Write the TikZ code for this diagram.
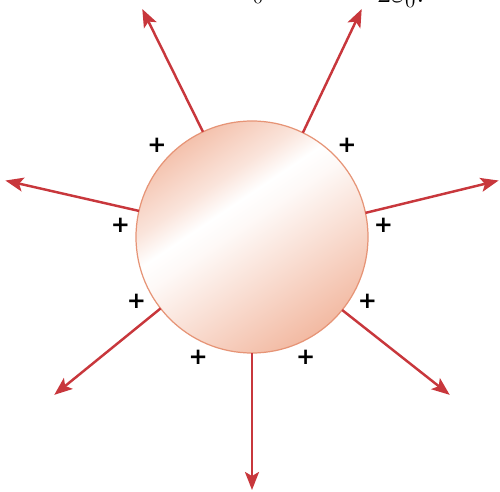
\documentclass[tikz,border=0pt]{standalone}
\usepackage{amsmath, amssymb}
\usepackage{fontspec}
\usepackage{tikz}
\usetikzlibrary{positioning, arrows.meta, calc}
\newfontfamily\chgfont{DejaVu Sans}
\definecolor{fieldred}{RGB}{200, 55, 60}
\definecolor{sphereD}{RGB}{230, 148, 118}
\definecolor{sphereL}{RGB}{241, 178, 152}
\pgfdeclareverticalshading{sphsh}{100bp}{color(0bp)=(sphereL); color(25bp)=(sphereL!90!white);
  color(42bp)=(sphereL!40!white); color(53bp)=(sphereL!8!white); color(58bp)=(white);
  color(64bp)=(sphereL!35!white); color(80bp)=(sphereL); color(100bp)=(sphereL)}
\tikzset{
  sphere/.style={circle, draw=sphereD, line width=0.7pt, inner sep=0pt, outer sep=0pt,
                 shading=sphsh, shading angle=34, minimum size=4.64cm},
  arr/.style={-{Stealth[length=3.6mm, width=2.8mm, inset=0.8mm]}, draw=fieldred, line width=1.4pt},
  chg/.style={font=\chgfont\bfseries\fontsize{13}{13}\selectfont, inner sep=0pt},
  frag/.style={font=\LARGE, inner sep=0pt, anchor=base west},
}
\begin{document}
\begin{tikzpicture}
  \useasboundingbox (-5.04,-5.08) rectangle (4.96,4.74);
  % cut-off formula parts
  \node[frag] (fl) at (-0.27,4.77) {$\varepsilon_0$};
  \node[frag] (fr) at (2.5,4.68) {$2\varepsilon_0.$};
  % charged sphere
  \node[sphere] (sph) at (0,0) {};
  % field line ends
  \coordinate (t1) at (270:5.06);
  \coordinate (t2) at (321.4:5.06);
  \coordinate (t3) at (12.9:5.06);
  \coordinate (t4) at (64.3:5.06);
  \coordinate (t5) at (115.7:5.06);
  \coordinate (t6) at (167.1:5.06);
  \coordinate (t7) at (218.6:5.06);
  % field lines
  \draw[arr] (sph.270) -- (t1);
  \draw[arr] (sph.321.4) -- (t2);
  \draw[arr] (sph.12.9) -- (t3);
  \draw[arr] (sph.64.3) -- (t4);
  \draw[arr] (sph.115.7) -- (t5);
  \draw[arr] (sph.167.1) -- (t6);
  \draw[arr] (sph.218.6) -- (t7);
  % surface charges
  \node[chg] (q1) at (5:2.64) {+};
  \node[chg] (q2) at (44:2.64) {+};
  \node[chg] (q3) at (136:2.64) {+};
  \node[chg] (q4) at (175:2.64) {+};
  \node[chg] (q5) at (209:2.64) {+};
  \node[chg] (q6) at (246:2.64) {+};
  \node[chg] (q7) at (294:2.64) {+};
  \node[chg] (q8) at (331:2.64) {+};
\end{tikzpicture}
\end{document}
